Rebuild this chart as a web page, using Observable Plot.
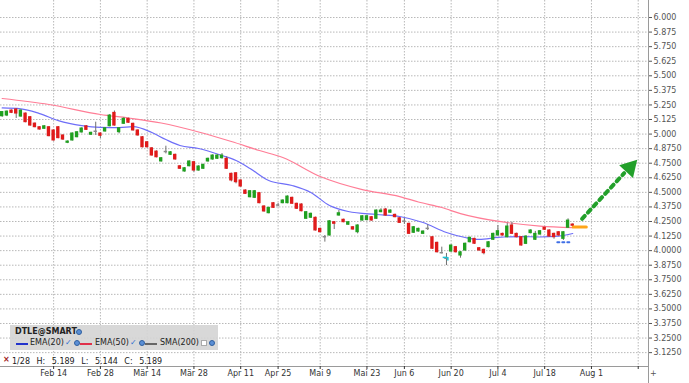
<!DOCTYPE html>
<html>
<head>
<meta charset="utf-8">
<script src="https://cdn.jsdelivr.net/npm/d3@7"></script>
<script src="https://cdn.jsdelivr.net/npm/@observablehq/plot@0.6"></script>
<style>
  html, body { margin: 0; padding: 0; background: #fff; }
  #wrap { position: relative; width: 689px; height: 383px; font-family: "DejaVu Sans", Verdana, sans-serif; color: #222; overflow: hidden; }
  #wrap svg { position: absolute; left: 0; top: 0; }
  .t { position: absolute; font-size: 8px; line-height: 10px; white-space: pre; }
  .ico { position: absolute; width: 6px; height: 6px; border-radius: 50%; background: #5b8fd6; border: 1px solid #2f5f9f; box-sizing: border-box; }
  .sw { position: absolute; height: 2px; }
  .chk { position: absolute; font-size: 8px; line-height: 10px; color: #2f6fd0; }
  .box { position: absolute; width: 6px; height: 6px; background: #fff; border: 1px solid #aaa; box-sizing: border-box; }
</style>
</head>
<body>
<div id="wrap"></div>
<script>
// ---- calendar (LSE trading days, 2022) ----
const firstDay = "2022-01-28";
const lastDay = "2022-08-19";
const holidays = ["2022-04-15", "2022-04-18", "2022-05-02", "2022-06-02", "2022-06-03"];

// ---- OHLC, one value per trading day starting 2022-01-28 ----
const open = [
5.153,5.159,5.202,5.211,5.150,5.176,5.145,5.090,5.059,5.045,
5.059,5.031,5.059,4.988,4.925,4.945,4.973,5.014,5.067,4.994,
5.022,5.005,5.022,5.067,5.182,5.016,5.088,5.131,5.088,5.031,
4.973,4.930,4.878,4.850,4.765,4.848,4.822,4.822,4.724,4.679,
4.724,4.759,4.687,4.702,4.765,4.782,4.788,4.793,4.788,4.659,
4.664,4.602,4.516,4.458,4.453,4.493,4.379,4.321,4.407,4.389,
4.407,4.407,4.453,4.402,4.396,4.273,4.282,4.282,4.187,4.117,
4.130,4.244,4.301,4.265,4.222,4.201,4.158,4.258,4.262,4.287,
4.273,4.330,4.353,4.325,4.307,4.278,4.251,4.230,4.153,4.164,
4.144,4.189,4.115,4.067,3.980,3.932,3.992,4.030,3.958,4.001,
4.072,4.101,4.021,4.007,4.030,4.093,4.130,4.144,4.115,4.216,
4.144,4.115,4.058,4.150,4.093,4.138,4.196,4.173,4.144,4.158,
4.101,4.196,4.224
];
const high = [
5.189,5.198,5.207,5.218,5.207,5.181,5.150,5.095,5.064,5.073,
5.064,5.036,5.065,4.994,4.942,5.010,5.021,5.053,5.073,5.016,
5.102,5.010,5.056,5.168,5.198,5.056,5.140,5.137,5.094,5.036,
4.979,4.936,4.884,4.856,4.799,4.896,4.850,4.828,4.730,4.713,
4.771,4.765,4.728,4.742,4.794,4.822,4.825,4.833,4.805,4.665,
4.670,4.607,4.522,4.516,4.516,4.499,4.385,4.373,4.413,4.405,
4.436,4.470,4.459,4.407,4.402,4.336,4.322,4.288,4.193,4.130,
4.258,4.250,4.344,4.270,4.250,4.207,4.222,4.301,4.303,4.293,
4.350,4.360,4.362,4.350,4.313,4.284,4.276,4.236,4.207,4.193,
4.170,4.222,4.121,4.073,4.030,3.976,4.050,4.036,3.992,4.065,
4.116,4.107,4.027,4.013,4.078,4.150,4.216,4.150,4.235,4.244,
4.150,4.121,4.127,4.179,4.165,4.173,4.201,4.179,4.150,4.164,
4.164,4.273,4.230
];
const low = [
5.144,5.150,5.176,5.134,5.145,5.097,5.068,5.054,5.034,5.040,
4.977,4.940,4.960,4.945,4.918,4.940,4.968,5.009,5.031,4.989,
4.988,4.962,5.016,5.062,5.068,5.002,5.083,5.092,5.026,4.983,
4.881,4.881,4.811,4.796,4.760,4.830,4.816,4.776,4.697,4.673,
4.719,4.673,4.682,4.697,4.759,4.776,4.782,4.785,4.696,4.590,
4.573,4.545,4.482,4.453,4.447,4.402,4.330,4.316,4.362,4.375,
4.402,4.402,4.396,4.353,4.333,4.268,4.276,4.168,4.152,4.073,
4.125,4.181,4.296,4.239,4.216,4.176,4.144,4.253,4.256,4.253,
4.268,4.325,4.296,4.320,4.282,4.233,4.225,4.138,4.147,4.158,
4.138,4.173,4.010,3.980,3.972,3.872,3.986,3.980,3.935,3.995,
4.067,4.053,3.995,3.964,4.024,4.087,4.124,4.124,4.110,4.138,
4.110,4.038,4.052,4.144,4.087,4.133,4.173,4.116,4.098,4.124,
4.087,4.190,4.207
];
const close = [
5.189,5.193,5.182,5.176,5.202,5.102,5.073,5.059,5.039,5.067,
4.982,4.945,4.965,4.953,4.936,5.005,5.016,5.048,5.036,5.011,
5.018,4.985,5.050,5.159,5.073,5.050,5.131,5.097,5.031,4.988,
4.887,4.887,4.816,4.801,4.793,4.844,4.844,4.782,4.702,4.707,
4.765,4.687,4.722,4.736,4.788,4.816,4.816,4.816,4.702,4.602,
4.587,4.550,4.487,4.510,4.510,4.407,4.336,4.367,4.367,4.385,
4.430,4.464,4.402,4.359,4.338,4.330,4.316,4.173,4.158,4.113,
4.252,4.230,4.321,4.244,4.244,4.181,4.216,4.295,4.295,4.258,
4.344,4.344,4.301,4.344,4.287,4.238,4.247,4.144,4.201,4.187,
4.164,4.185,4.016,3.986,3.976,3.928,4.044,3.986,3.986,4.059,
4.110,4.059,4.001,3.978,4.072,4.144,4.167,4.130,4.207,4.144,
4.115,4.044,4.121,4.173,4.144,4.167,4.179,4.121,4.115,4.130,
4.158,4.258,4.213
];

// ---- moving averages (knots: trading-day index, value) ----
const ema20Idx = [0,4,8,12,17,21,25,28,32,35,38,42,47,50,53,57,62,66,70,74,80,85,90,95,99,102,106,111,115,119,122];
const ema20Val = [5.224,5.217,5.176,5.116,5.073,5.058,5.056,5.064,5.013,4.953,4.902,4.876,4.816,4.773,4.705,4.602,4.559,4.499,4.387,4.336,4.310,4.293,4.241,4.156,4.113,4.096,4.113,4.121,4.117,4.124,4.147];
const ema50Idx = [0,10,21,27,34,42,49,55,60,68,77,85,89,94,98,107,115,122];
const ema50Val = [5.305,5.254,5.168,5.138,5.095,5.018,4.936,4.859,4.799,4.636,4.524,4.464,4.417,4.370,4.318,4.246,4.211,4.198];

// ---- annotations ----
const orangeLevel = [{i: 122.1, v: 4.203}, {i: 124.9, v: 4.203}];
const blueLevel = [{i: 118.7, v: 4.072}, {i: 121.9, v: 4.072}];
const arrowPath = [{i: 124.0, v: 4.273}, {i: 133.0, v: 4.665}];
const arrowHead = [{i: 134.2, v: 4.712}];
const cyanMark = [{i1: 94.3, i2: 95.3, v: 3.942}];

// ---- axes ----
const xTickDates = ["2022-02-14","2022-02-28","2022-03-14","2022-03-28","2022-04-11","2022-04-25","2022-05-09","2022-05-23","2022-06-06","2022-06-20","2022-07-04","2022-07-18","2022-08-01","2022-08-15"];
const xTickLabels = ["Feb 14","Feb 28","Mär 14","Mär 28","Apr 11","Apr 25","Mai 9","Mai 23","Jun 6","Jun 20","Jul 4","Jul 18","Aug 1",""];
const yTicks = [3.125,3.25,3.375,3.5,3.625,3.75,3.875,4,4.125,4.25,4.375,4.5,4.625,4.75,4.875,5,5.125,5.25,5.375,5.5,5.625,5.75,5.875,6];
const yTickLabels = ["3.1250","3.2500","3.3750","3.5000","3.6250","3.7500","3.8750","4.0000","4.1250","4.2500","4.3750","4.5000","4.6250","4.7500","4.8750","5.000","5.125","5.250","5.375","5.500","5.625","5.750","5.875","6.000"];

// ---- build ----
function tradingDays(from, to) {
  const out = [];
  const d = new Date(from + "T00:00:00Z");
  const end = new Date(to + "T00:00:00Z");
  while (d <= end) {
    const s = d.toISOString().slice(0, 10);
    const wd = d.getUTCDay();
    if (wd !== 0 && wd !== 6 && !holidays.includes(s)) out.push(s);
    d.setUTCDate(d.getUTCDate() + 1);
  }
  return out;
}
const days = tradingDays(firstDay, lastDay);
const xTicks = xTickDates.map(s => days.indexOf(s));
const xLabel = new Map(xTicks.map((t, k) => [t, xTickLabels[k]]));
const yLabel = new Map(yTicks.map((t, k) => [t, yTickLabels[k]]));

const candles = open.map((o, i) => ({i, date: days[i], o, h: high[i], l: low[i], c: close[i]}));
const bodyColor = d => Math.abs(d.c - d.o) < 0.0045 ? "#8a8a8a" : (d.c > d.o ? "#1fa01f" : "#e01a1a");
const ema20 = ema20Idx.map((i, k) => ({i, v: ema20Val[k]}));
const ema50 = ema50Idx.map((i, k) => ({i, v: ema50Val[k]}));

const xDomain = [-0.36, 138.2];
const yDomain = [3.006, 6.146];
const green = "#22a02a";

const chart = Plot.plot({
  width: 689,
  height: 383,
  marginLeft: 0,
  marginRight: 41,
  marginTop: 0,
  marginBottom: 17,
  x: {domain: xDomain, axis: null},
  y: {domain: yDomain, axis: null},
  style: {fontFamily: "DejaVu Sans", fontSize: "8px", background: "transparent", overflow: "visible"},
  marks: [
    Plot.gridY(yTicks, {stroke: "#b8b8b8", strokeOpacity: 1, strokeDasharray: "1.5,1.5"}),
    Plot.gridX(xTicks, {stroke: "#b8b8b8", strokeOpacity: 1, strokeDasharray: "1.5,1.5"}),
    Plot.ruleY([yDomain[0]], {stroke: "#9a9a9a"}),
    Plot.ruleX([xDomain[1]], {y1: 2.86, y2: yDomain[1], stroke: "#9a9a9a"}),
    Plot.line(ema50, {x: "i", y: "v", stroke: "#ff7d96", strokeWidth: 1.2, curve: "monotone-x"}),
    Plot.line(ema20, {x: "i", y: "v", stroke: "#6e6ef8", strokeWidth: 1.2, curve: "monotone-x"}),
    Plot.ruleX(candles, {x: "i", y1: "l", y2: "h", stroke: "#6f6f6f", strokeWidth: 1}),
    Plot.rect(candles, {x1: d => d.i - 0.36, x2: d => d.i + 0.36, y1: "o", y2: "c", fill: bodyColor, insetTop: -0.5, insetBottom: -0.5}),
    Plot.ruleY(cyanMark, {x1: "i1", x2: "i2", y: "v", stroke: "#19c4d6", strokeWidth: 1.5}),
    Plot.ruleX(cyanMark, {x: "i2", y1: "v", y2: d => d.v - 0.03, stroke: "#19c4d6", strokeWidth: 1.5}),
    Plot.line(blueLevel, {x: "i", y: "v", stroke: "#3f6fe6", strokeWidth: 2, strokeDasharray: "2,3"}),
    Plot.line(orangeLevel, {x: "i", y: "v", stroke: "#ffa51a", strokeWidth: 3}),
    Plot.line(arrowPath, {x: "i", y: "v", stroke: green, strokeWidth: 4, strokeDasharray: "4,4.5"}),
    Plot.dot(arrowHead, {x: "i", y: "v", symbol: "triangle", r: 7, fill: green, stroke: "none", rotate: 43}),
    Plot.axisY(yTicks, {anchor: "right", tickFormat: d => yLabel.get(d), tickSize: 3, tickPadding: 2, color: "#555"}),
    Plot.axisX(xTicks, {anchor: "bottom", tickFormat: d => xLabel.get(d), tickSize: 3, tickPadding: 1, color: "#333"})
  ]
});

const wrap = document.getElementById("wrap");
wrap.appendChild(chart);

// ---- legend overlay ----
function el(cls, style, text) {
  const e = document.createElement("div");
  e.className = cls;
  Object.assign(e.style, style);
  if (text != null) e.textContent = text;
  wrap.appendChild(e);
  return e;
}
el("", {position: "absolute", left: "10px", top: "325px", width: "208px", height: "25px", background: "rgba(212,212,212,0.9)"});
el("t", {left: "15px", top: "327px", fontWeight: "bold"}, "DTLE@SMART");
el("ico", {left: "76px", top: "329px"});
el("sw", {left: "16px", top: "343px", width: "12px", background: "#2233cc"});
el("t", {left: "30px", top: "338px"}, "EMA(20)");
el("chk", {left: "65px", top: "338px"}, "✓");
el("ico", {left: "74px", top: "340px"});
el("sw", {left: "80px", top: "343px", width: "12px", background: "#e0304a"});
el("t", {left: "95px", top: "338px"}, "EMA(50)");
el("chk", {left: "130px", top: "338px"}, "✓");
el("ico", {left: "139px", top: "340px"});
el("sw", {left: "145px", top: "343px", width: "12px", background: "#666"});
el("t", {left: "160px", top: "338px"}, "SMA(200)");
el("box", {left: "201px", top: "340px"});
el("ico", {left: "209px", top: "340px"});
el("t", {left: "3px", top: "355px", color: "#a02020", fontWeight: "bold"}, "×");
el("t", {left: "12px", top: "357px", wordSpacing: "4px"}, "1/28 H: 5.189 L: 5.144 C: 5.189");
el("t", {left: "650px", top: "369px", color: "#555"}, "+");
</script>
</body>
</html>
